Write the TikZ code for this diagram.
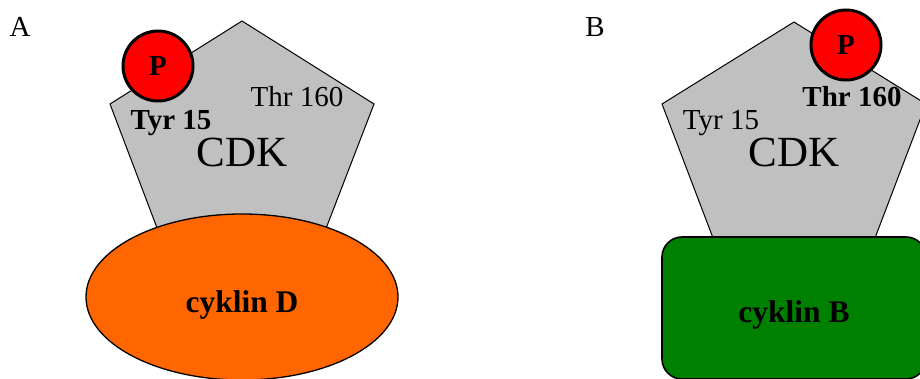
\documentclass[tikz,border=0pt]{standalone}
\usepackage{fontspec}
\setmainfont{Liberation Serif}
\usetikzlibrary{shapes.geometric}
\definecolor{cdkgray}{HTML}{C0C0C0}
\definecolor{cycorange}{HTML}{FF6600}
\definecolor{cycgreen}{HTML}{008000}
\definecolor{phred}{HTML}{FF0000}
\newcommand{\fsz}[1]{\fontsize{#1}{#1}\selectfont}
\tikzset{
  pent/.style={draw=black, fill=cdkgray, line width=1pt, line join=miter},
  phos/.style={circle, draw=black, fill=phred, line width=3pt, minimum size=70pt, inner sep=0pt, font=\fsz{29}\bfseries},
  lbl/.style={anchor=base, inner sep=0pt, font=\fsz{29}},
  blbl/.style={anchor=base, inner sep=0pt, font=\fsz{29}\bfseries},
  cyc/.style={anchor=base, inner sep=0pt, font=\fsz{31.5}\bfseries},
  cdk/.style={anchor=base, inner sep=0pt, font=\fsz{43}},
}
\begin{document}
\begin{tikzpicture}[x=1pt, y=-1pt]
\clip (0,0) rectangle (920,379);
\fill[white] (0,0) rectangle (920,379);
% ---------- Panel A ----------
\node[lbl] (labA) at (20,37) {A};
\draw[pent] (242,21) -- (374,104) -- (310,270) -- (173,270) -- (110,104) -- cycle;
\draw[line width=1.3pt, fill=cycorange] (242,297) ellipse [x radius=156, y radius=83];
\node[cyc] (cycD) at (242,312) {cyklin D};
\node[cdk] (cdkA) at (242,167) {CDK};
\node[lbl] (thrA) at (297,107) {Thr 160};
\node[blbl] (tyrA) at (171,130) {Tyr 15};
\node[phos] (pA) at (158,66) {P};
% ---------- Panel B ----------
\node[lbl] (labB) at (595,37) {B};
\draw[pent] (794,22) -- (926,104) -- (859,280) -- (729,280) -- (662,104) -- cycle;
\draw[line width=1.6pt, fill=cycgreen, rounded corners=20pt] (662,237) rectangle (926,379);
\node[cyc] (cycB) at (794,322) {cyklin B};
\node[cdk] (cdkB) at (794,167) {CDK};
\node[blbl] (thrB) at (852,107) {Thr 160};
\node[lbl] (tyrB) at (721,130) {Tyr 15};
\node[phos] (pB) at (846,45) {P};
\end{tikzpicture}
\end{document}
